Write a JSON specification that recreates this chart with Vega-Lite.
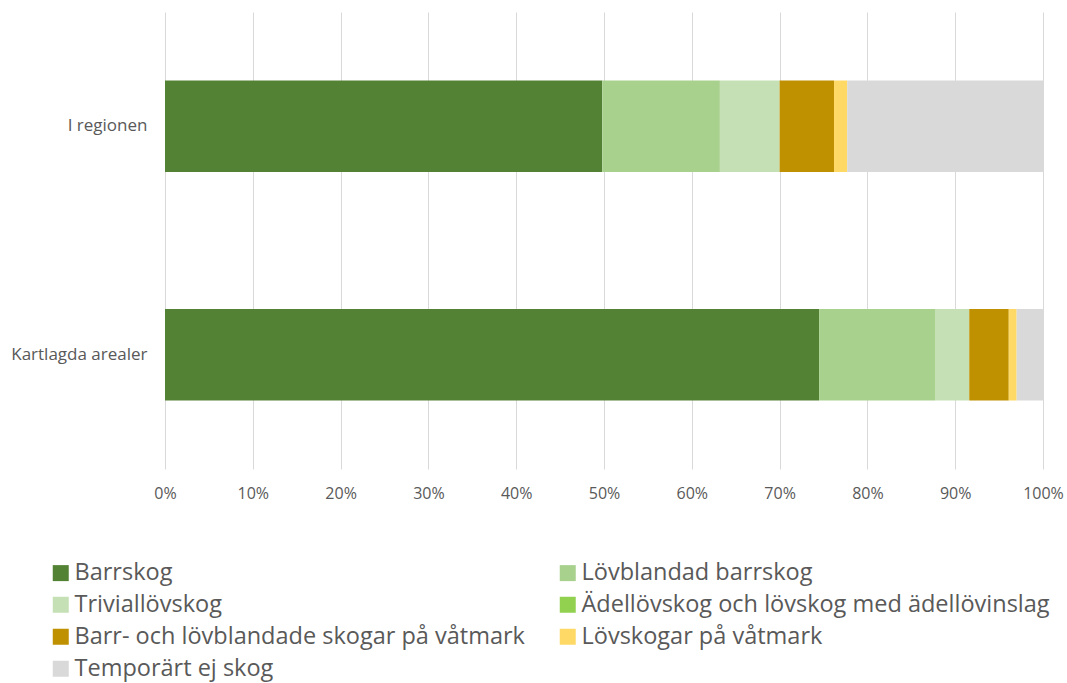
{
  "$schema": "https://vega.github.io/schema/vega-lite/v6.json",
  "width": 878,
  "height": 457,
  "autosize": "none",
  "padding": {"left": 165, "top": 12, "right": 24, "bottom": 214},
  "background": "white",
  "config": {
    "view": {"stroke": null},
    "font": "Open Sans"
  },
  "data": {
    "values": [
      {"omrade": "I regionen", "typ": "Barrskog", "ordning": 1, "andel": 49.8},
      {"omrade": "I regionen", "typ": "Lövblandad barrskog", "ordning": 2, "andel": 13.4},
      {"omrade": "I regionen", "typ": "Triviallövskog", "ordning": 3, "andel": 6.8},
      {"omrade": "I regionen", "typ": "Ädellövskog och lövskog med ädellövinslag", "ordning": 4, "andel": 0},
      {"omrade": "I regionen", "typ": "Barr- och lövblandade skogar på våtmark", "ordning": 5, "andel": 6.2},
      {"omrade": "I regionen", "typ": "Lövskogar på våtmark", "ordning": 6, "andel": 1.5},
      {"omrade": "I regionen", "typ": "Temporärt ej skog", "ordning": 7, "andel": 22.3},
      {"omrade": "Kartlagda arealer", "typ": "Barrskog", "ordning": 1, "andel": 74.5},
      {"omrade": "Kartlagda arealer", "typ": "Lövblandad barrskog", "ordning": 2, "andel": 13.2},
      {"omrade": "Kartlagda arealer", "typ": "Triviallövskog", "ordning": 3, "andel": 3.9},
      {"omrade": "Kartlagda arealer", "typ": "Ädellövskog och lövskog med ädellövinslag", "ordning": 4, "andel": 0},
      {"omrade": "Kartlagda arealer", "typ": "Barr- och lövblandade skogar på våtmark", "ordning": 5, "andel": 4.5},
      {"omrade": "Kartlagda arealer", "typ": "Lövskogar på våtmark", "ordning": 6, "andel": 0.9},
      {"omrade": "Kartlagda arealer", "typ": "Temporärt ej skog", "ordning": 7, "andel": 3.0}
    ]
  },
  "mark": {"type": "bar"},
  "encoding": {
    "y": {
      "field": "omrade",
      "type": "nominal",
      "sort": ["I regionen", "Kartlagda arealer"],
      "scale": {"paddingInner": 0.6, "paddingOuter": 0.3},
      "axis": {
        "title": null,
        "domain": false,
        "ticks": false,
        "labelFontSize": 17,
        "labelColor": "#595959",
        "labelPadding": 18,
        "labelFont": "Open Sans"
      }
    },
    "x": {
      "field": "andel",
      "type": "quantitative",
      "stack": "normalize",
      "scale": {"domain": [0, 1]},
      "axis": {
        "title": null,
        "format": ".0%",
        "values": [0, 0.1, 0.2, 0.3, 0.4, 0.5, 0.6, 0.7, 0.8, 0.9, 1],
        "labelOverlap": false,
        "labelFlush": false,
        "domain": false,
        "ticks": false,
        "grid": true,
        "gridColor": "#D9D9D9",
        "gridWidth": 1,
        "labelFontSize": 16,
        "labelColor": "#595959",
        "labelPadding": 16,
        "labelFont": "Open Sans"
      }
    },
    "order": {"field": "ordning", "type": "quantitative"},
    "color": {
      "field": "typ",
      "type": "nominal",
      "scale": {
        "domain": ["Barrskog", "Triviallövskog", "Barr- och lövblandade skogar på våtmark", "Temporärt ej skog", "Lövblandad barrskog", "Ädellövskog och lövskog med ädellövinslag", "Lövskogar på våtmark"],
        "range": ["#548235", "#C5E0B4", "#BF9000", "#D9D9D9", "#A9D18E", "#92D050", "#FFD966"]
      },
      "legend": {
        "title": null,
        "orient": "none",
        "legendX": -116,
        "legendY": 549,
        "columns": 2,
        "columnPadding": 31,
        "rowPadding": 7,
        "symbolType": "square",
        "symbolSize": 256,
        "symbolStrokeWidth": 0,
        "symbolOffset": 0,
        "labelFontSize": 23.5,
        "labelColor": "#595959",
        "labelLimit": 600,
        "labelOffset": 2,
        "labelFont": "Open Sans"
      }
    }
  }
}
